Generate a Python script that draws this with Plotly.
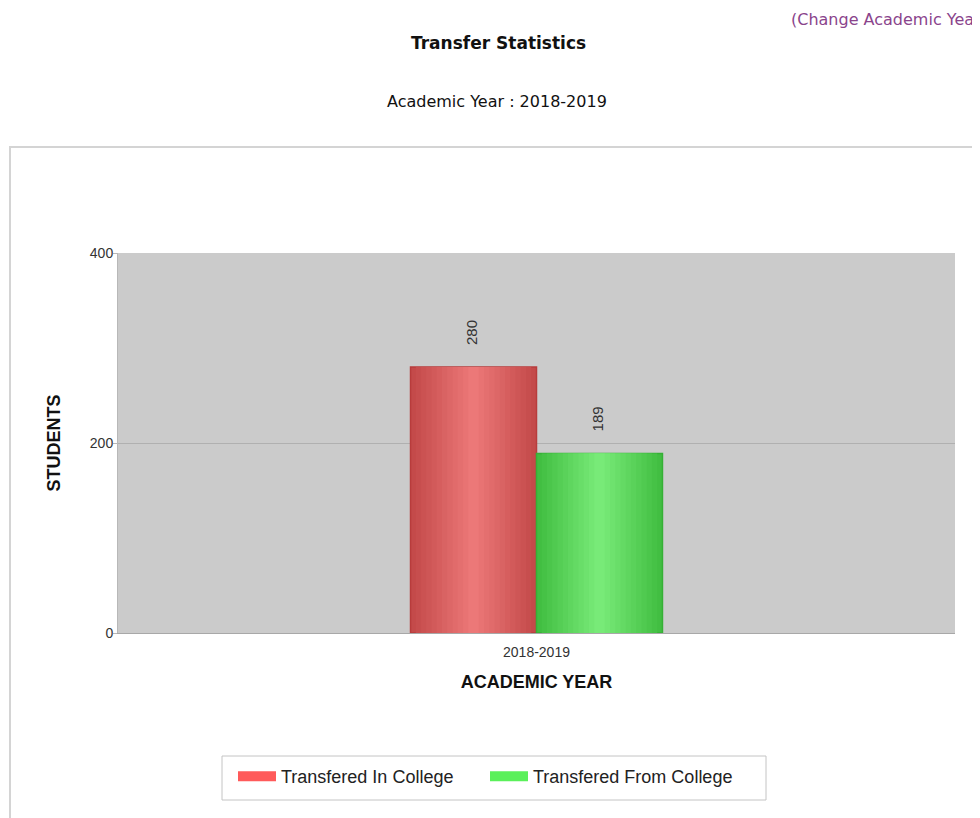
import plotly.graph_objects as go

# ---- data ----
categories = ["2018-2019"]
series_names = ["Transfered In College", "Transfered From College"]
transfered_in = [280]
transfered_from = [189]
y_ticks = [0, 200, 400]

# ---- styling ----
OFF = 8  # default body margin of the html page
W, H = 980 - OFF, 818 - OFF
L = 118 - OFF
T = 253 - OFF
R = W - (955 - OFF)
B = H - (633 - OFF)
PW, PH = W - L - R, H - T - B

def px_x(p):
    return (p - OFF - L) / PW

def px_y(p):
    return (H - B - (p - OFF)) / PH

bar_w = 0.1505  # category units
edge_cols = [(196, 74, 74), (66, 190, 66)]
center_cols = [(236, 120, 120), (120, 234, 120)]
line_cols = ["#b83c3c", "#36b036"]
legend_cols = ["#ff5a5a", "#5af05a"]

fig = go.Figure()

values = [transfered_in, transfered_from]
N = 12
for i, (name, vals) in enumerate(zip(series_names, values)):
    base_offset = -bar_w if i == 0 else 0.0
    for k in range(N):
        frac = 1 - k / N
        w = bar_w * frac
        t = k / (N - 1)
        c = tuple(int(edge_cols[i][j] + (center_cols[i][j] - edge_cols[i][j]) * t) for j in range(3))
        fig.add_trace(go.Bar(
            x=categories, y=vals, name=name,
            width=[w], offset=[base_offset + (bar_w - w) / 2],
            marker=dict(color="rgb(%d,%d,%d)" % c,
                        line=dict(color=line_cols[i] if k == 0 else "rgba(0,0,0,0)",
                                  width=1.5 if k == 0 else 0)),
            showlegend=False, hoverinfo="skip" if k else "x+y",
        ))
    # legend entry
    fig.add_trace(go.Scatter(
        x=[None], y=[None], mode="lines", name=name,
        line=dict(color=legend_cols[i], width=14),
    ))

# value labels
for i, vals in enumerate(values):
    for cat, v in zip(categories, vals):
        fig.add_annotation(
            x=cat, y=v, xref="x", yref="y", text=str(v), showarrow=False,
            textangle=-90, yanchor="bottom", xanchor="center",
            xshift=(-65 if i == 0 else 61), yshift=20,
            font=dict(family="Arial, Liberation Sans", size=15, color="#333333"),
        )

# page texts
fig.add_annotation(x=px_x(498), y=px_y(43), xref="paper", yref="paper",
                   text="<b>Transfer Statistics</b>", showarrow=False,
                   xanchor="center", yanchor="middle",
                   font=dict(family="Verdana, DejaVu Sans", size=17, color="#111111"))
fig.add_annotation(x=px_x(497), y=px_y(101), xref="paper", yref="paper",
                   text="Academic Year : 2018-2019", showarrow=False,
                   xanchor="center", yanchor="middle",
                   font=dict(family="Verdana, DejaVu Sans", size=16, color="#111111"))
fig.add_annotation(x=px_x(789), y=px_y(19), xref="paper", yref="paper",
                   text="(Change Academic Year", showarrow=False,
                   xanchor="left", yanchor="middle",
                   font=dict(family="Verdana, DejaVu Sans", size=16, color="#8a448c"))

# container border
fig.add_shape(type="rect", xref="paper", yref="paper",
              x0=px_x(10), x1=px_x(1000), y0=px_y(840), y1=px_y(147),
              line=dict(color="#d4d4d4", width=2), layer="below")
# legend frame
fig.add_shape(type="rect", xref="paper", yref="paper",
              x0=px_x(222), x1=px_x(766), y0=px_y(800), y1=px_y(756),
              line=dict(color="#c4c4c4", width=1), fillcolor="white", layer="below")

fig.update_layout(
    width=W, height=H,
    margin=dict(l=L, r=R, t=T, b=B, autoexpand=False),
    barmode="overlay",
    paper_bgcolor="white",
    plot_bgcolor="#cbcbcb",
    font=dict(family="Arial, Liberation Sans", size=14, color="#333333"),
    showlegend=True,
    legend=dict(orientation="h", x=px_x(237) - 4 / PW, xanchor="left",
                y=px_y(758), yanchor="top",
                bgcolor="rgba(0,0,0,0)", borderwidth=0,
                font=dict(family="Arial, Liberation Sans", size=18, color="#222222"),
                itemwidth=38, entrywidthmode="pixels", entrywidth=199,
                traceorder="normal"),
    xaxis=dict(
        type="category", range=[-0.5, 0.5],
        showgrid=False, showline=True, linecolor="#a8a8a8", linewidth=1,
        ticks="outside", ticklen=6, tickcolor="rgba(0,0,0,0)",
        tickfont=dict(size=14, color="#333333"),
        title=dict(text="<b>ACADEMIC YEAR</b>", standoff=16,
                   font=dict(family="Arial, Liberation Sans", size=18, color="#111111")),
        fixedrange=True,
    ),
    yaxis=dict(
        range=[0, 400], tickvals=y_ticks,
        showgrid=True, gridcolor="#b0b0b0", gridwidth=1,
        zeroline=False, showline=True, linecolor="#b8b8b8",
        ticks="outside", ticklen=4, tickcolor="#b8b8b8",
        ticklabelstandoff=-3,
        tickfont=dict(size=14, color="#333333"),
        title=dict(text="<b>STUDENTS</b>", standoff=24,
                   font=dict(family="Arial, Liberation Sans", size=18, color="#111111")),
        fixedrange=True,
    ),
)

fig.write_html("out.html")
